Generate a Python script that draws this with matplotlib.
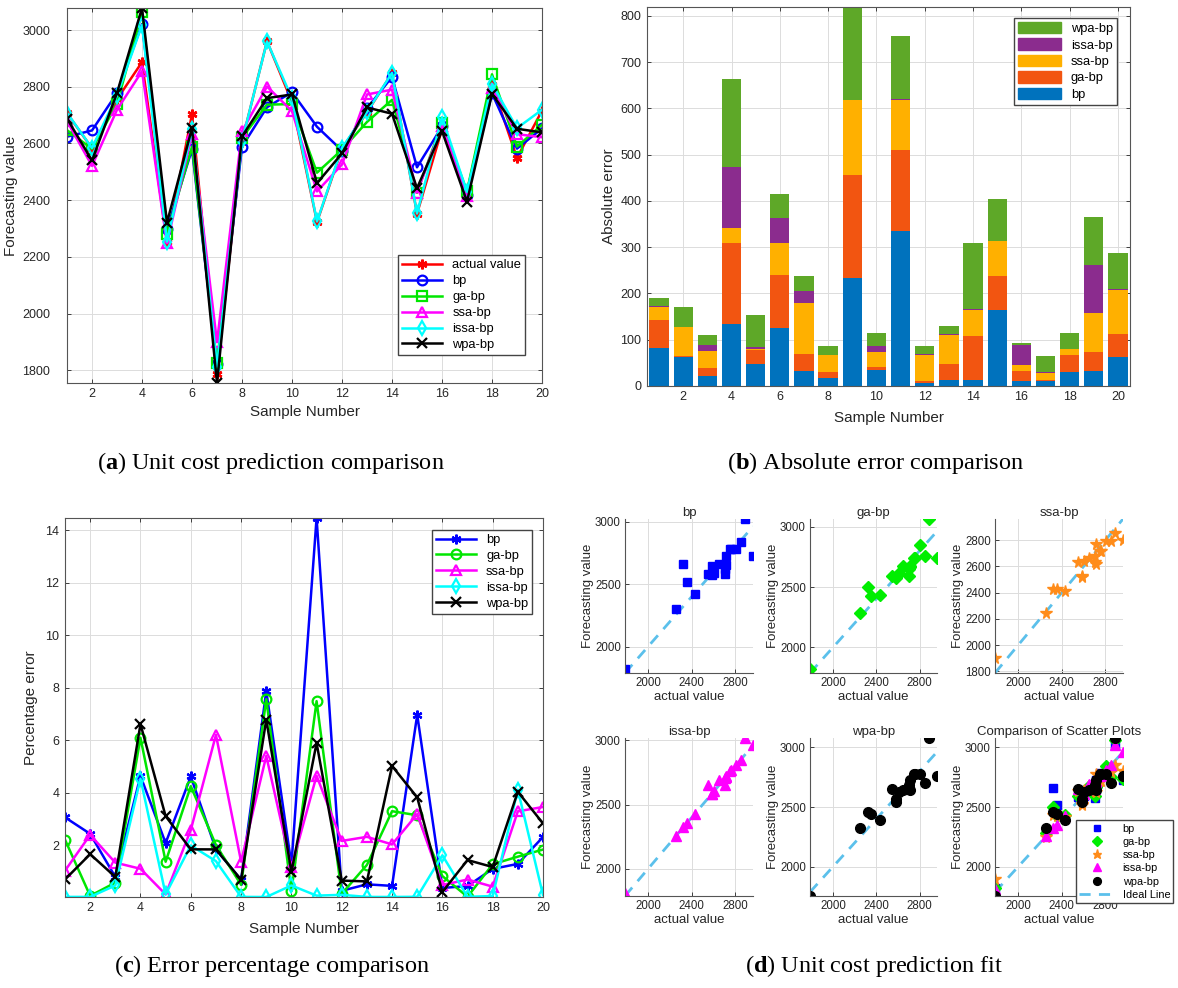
import matplotlib
matplotlib.use('Agg')
import matplotlib.pyplot as plt
import numpy as np
from matplotlib.patches import Patch

plt.rcParams['font.family'] = ['Liberation Sans', 'DejaVu Sans']
plt.rcParams['mathtext.fontset'] = 'custom'
plt.rcParams['mathtext.rm'] = 'Liberation Serif'
plt.rcParams['mathtext.bf'] = 'Liberation Serif:bold'

samples = np.arange(1, 21)

actual = [2707, 2583, 2756, 2887, 2251, 2704, 1788, 2607, 2961, 2746,
          2323, 2582, 2710, 2848, 2352, 2650, 2430, 2808, 2549, 2716]
bp = [2624, 2646, 2778, 3021, 2298, 2579, 1821, 2589, 2728, 2781,
      2659, 2575, 2724, 2835, 2516, 2660, 2419, 2777, 2582, 2653]
ga_bp = [2647, 2581, 2740, 3063, 2282, 2589, 1824, 2620, 2737, 2739,
         2497, 2578, 2676, 2754, 2426, 2672, 2431, 2844, 2589, 2666]
ssa_bp = [2679, 2521, 2719, 2855, 2248, 2634, 1899, 2643, 2801, 2714,
          2431, 2526, 2773, 2790, 2427, 2663, 2413, 2796, 2633, 2622]
issa_bp = [2708, 2584, 2769, 3018, 2254, 2650, 1813, 2608, 2960, 2759,
           2325, 2585, 2711, 2849, 2353, 2693, 2429, 2810, 2654, 2719]
wpa_bp = [2688, 2540, 2778, 3078, 2321, 2654, 1755, 2625, 2760, 2773,
          2460, 2565, 2727, 2705, 2442, 2644, 2395, 2775, 2652, 2639]

model_names = ['bp', 'ga-bp', 'ssa-bp', 'issa-bp', 'wpa-bp']
predictions = [bp, ga_bp, ssa_bp, issa_bp, wpa_bp]

actual_arr = np.array(actual, dtype=float)
abs_err = [np.abs(np.array(p) - actual_arr) for p in predictions]
pct_err = [e / actual_arr * 100 for e in abs_err]

LINE_COLORS = ['#0000ff', '#00e600', '#ff00ff', '#00ffff', '#000000']
BAR_COLORS = ['#0072bd', '#f25511', '#ffb000', '#8b2c8e', '#5ea828']
FIT_COLORS = ['#0000ff', '#00ee00', '#ff8c1a', '#ff00ff', '#000000']
FIT_MARKERS = ['s', 'D', '*', '^', 'o']
FIT_SIZES = [6, 6, 8.5, 7, 7]
IDEAL = '#5bc0eb'
INK = '#262626'

W, H = 1178, 988
fig = plt.figure(figsize=(W / 100, H / 100), dpi=100)


def box_px(l, t, r, b):
    return [l / W, 1 - b / H, (r - l) / W, (b - t) / H]


def matlab_axes(ax, box=True, size=9, ypad=4):
    ax.grid(True, color='#dcdcdc', lw=0.7)
    ax.set_axisbelow(True)
    ax.tick_params(direction='in', length=3, width=0.6, colors=INK,
                   labelsize=size, top=box, right=box)
    ax.tick_params(axis='y', pad=ypad)
    for name, sp in ax.spines.items():
        sp.set_color('#555555')
        sp.set_linewidth(0.8)
        if not box and name in ('top', 'right'):
            sp.set_visible(False)


# (a) forecast curves
ax = fig.add_axes(box_px(67, 8, 542, 383))
ax.plot(samples, actual, color='#ff0000', marker=(6, 2, 0), ms=7, mew=1.8,
        lw=1.8, label='actual value')
open_markers = ['o', 's', '^', 'd', 'x']
for name, pred, c, m in zip(model_names, predictions, LINE_COLORS, open_markers):
    ax.plot(samples, pred, color=c, marker=m, ms=7, mfc='none', mew=1.6,
            lw=1.8, label=name)
ax.set_xlim(1, 20)
ax.set_ylim(min(min(p) for p in predictions + [actual]),
            max(max(p) for p in predictions + [actual]))
ax.set_xticks(range(2, 21, 2))
ax.set_yticks(range(1800, 3001, 200))
matlab_axes(ax, ypad=12)
ax.set_xlabel('Sample Number', fontsize=11, color=INK, labelpad=4)
ax.set_ylabel('Forecasting value', fontsize=11, color=INK, labelpad=3)
ax.legend(loc='lower right', bbox_to_anchor=(0.964, 0.075), borderaxespad=0,
          fontsize=9.3, handlelength=3.1, labelspacing=0.3, fancybox=False,
          framealpha=1, edgecolor='#444444', borderpad=0.3)

# (b) stacked absolute errors
ax = fig.add_axes(box_px(647, 7, 1130, 386))
bottom = np.zeros(len(samples))
for name, err, c in zip(model_names, abs_err, BAR_COLORS):
    ax.bar(samples, err, bottom=bottom, width=0.8, color=c, label=name)
    bottom += err
ax.set_xlim(0.5, 20.5)
ax.set_ylim(0, bottom.max())
ax.set_xticks(range(2, 21, 2))
ax.set_yticks(range(0, 801, 100))
matlab_axes(ax)
ax.set_xlabel('Sample Number', fontsize=11, color=INK, labelpad=6)
ax.set_ylabel('Absolute error', fontsize=11, color=INK, labelpad=3)
handles = [Patch(color=c) for c in BAR_COLORS][::-1]
ax.legend(handles, model_names[::-1], loc='upper right',
          bbox_to_anchor=(0.973, 0.971), borderaxespad=0, fontsize=9.3,
          handlelength=3.3, handleheight=1.0, labelspacing=0.25,
          fancybox=False, framealpha=1, edgecolor='#444444', borderpad=0.3)

# (c) percentage errors
ax = fig.add_axes(box_px(65, 518, 543, 897))
pct_markers = [(6, 2, 0), 'o', '^', 'd', 'x']
for name, pct, c, m in zip(model_names, pct_err, LINE_COLORS, pct_markers):
    ax.plot(samples, pct, color=c, marker=m, ms=7, mfc='none', mew=1.6,
            lw=1.8, label=name)
ax.set_xlim(1, 20)
ax.set_ylim(min(p.min() for p in pct_err), max(p.max() for p in pct_err))
ax.set_xticks(range(2, 21, 2))
ax.set_yticks(range(2, 15, 2))
matlab_axes(ax)
ax.set_xlabel('Sample Number', fontsize=11, color=INK, labelpad=6)
ax.set_ylabel('Percentage error', fontsize=11, color=INK, labelpad=5)
ax.legend(loc='upper right', bbox_to_anchor=(0.977, 0.968), borderaxespad=0,
          fontsize=9.3, handlelength=3.1, labelspacing=0.3, fancybox=False,
          framealpha=1, edgecolor='#444444', borderpad=0.3)

# (d) fitted vs actual scatter plots
fit_boxes = [(625, 519, 753, 673), (810, 519, 937, 673), (995, 519, 1123, 673),
             (625, 738, 753, 896), (810, 738, 937, 896)]
fit_yticks = [range(2000, 3001, 500), range(2000, 3001, 500),
              range(1800, 2801, 200), range(2000, 3001, 500),
              range(2000, 3001, 500)]
lo, hi = min(actual), max(actual)


def fit_axes(ax, title, yticks):
    ax.margins(0)
    ax.set_xticks([2000, 2400, 2800])
    ax.set_yticks(list(yticks))
    matlab_axes(ax, box=False, size=8.3, ypad=3)
    ax.tick_params(axis='x', pad=3)
    ax.set_title(title, fontsize=9.5, color=INK, pad=2)
    ax.set_xlabel('actual value', fontsize=9.5, color=INK, labelpad=1)
    ax.set_ylabel('Forecasting value', fontsize=9.5, color=INK, labelpad=1)


for i, (name, pred) in enumerate(zip(model_names, predictions)):
    ax = fig.add_axes(box_px(*fit_boxes[i]))
    ax.plot(actual, pred, ls='none', marker=FIT_MARKERS[i],
            color=FIT_COLORS[i], ms=FIT_SIZES[i])
    ax.plot([lo, hi], [lo, hi], ls='--', color=IDEAL, lw=2, dashes=(4, 3),
            zorder=1.5)
    fit_axes(ax, name, fit_yticks[i])

ax = fig.add_axes(box_px(995, 738, 1123, 896))
for i, (name, pred) in enumerate(zip(model_names, predictions)):
    ax.plot(actual, pred, ls='none', marker=FIT_MARKERS[i],
            color=FIT_COLORS[i], ms=FIT_SIZES[i], label=name)
ax.plot([lo, hi], [lo, hi], ls='--', color=IDEAL, lw=2, dashes=(4, 3),
        zorder=1.5, label='Ideal Line')
fit_axes(ax, 'Comparison of Scatter Plots', range(2000, 3001, 500))
ax.legend(loc='lower left', bbox_to_anchor=(1076 / W, 1 - 903 / H),
          bbox_transform=fig.transFigure, borderaxespad=0, fontsize=7.8,
          handlelength=3.2, labelspacing=0.3, markerscale=0.8,
          fancybox=False, framealpha=1, edgecolor='#444444', borderpad=0.3)

caption = dict(ha='center', va='center', fontsize=17.5, family='Liberation Serif',
               color='black')
fig.text(271 / W, 1 - 463 / H, r'($\mathbf{a}$) Unit cost prediction comparison', **caption)
fig.text(876 / W, 1 - 463 / H, r'($\mathbf{b}$) Absolute error comparison', **caption)
fig.text(272 / W, 1 - 966 / H, r'($\mathbf{c}$) Error percentage comparison', **caption)
fig.text(874 / W, 1 - 966 / H, r'($\mathbf{d}$) Unit cost prediction fit', **caption)

fig.savefig('out.png', dpi=100)
